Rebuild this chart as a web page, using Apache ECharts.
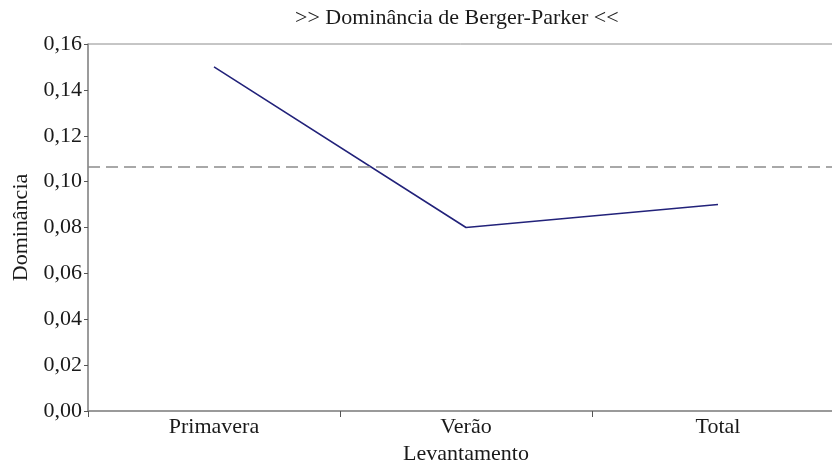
<!DOCTYPE html>
<html>
<head>
<meta charset="utf-8">
<script src="https://cdn.jsdelivr.net/npm/echarts@6/dist/echarts.min.js"></script>
<style>
  html, body { margin: 0; padding: 0; background: #fff; }
  #chart { width: 832px; height: 462px; }
</style>
</head>
<body>
<div id="chart"></div>
<script>
// dados
const categorias = ['Primavera', 'Verão', 'Total']
const dominancia = [0.15, 0.08, 0.09]

const fonte = '"Liberation Serif", "DejaVu Serif", serif'
const cinza = '#8c8c8c'

const chart = echarts.init(document.getElementById('chart'))

chart.setOption({
  animation: false,
  backgroundColor: '#fff',
  title: {
    text: '>> Dominância de Berger-Parker <<',
    left: 290,
    top: 2,
    textStyle: { fontFamily: fonte, fontSize: 22, fontWeight: 'normal', color: '#1a1a1a' },
  },
  grid: {
    left: 88,
    top: 44,
    width: 756,
    height: 367,
    outerBoundsMode: 'none',
    containLabel: false,
    show: true,
    borderColor: cinza,
    borderWidth: 1,
  },
  xAxis: {
    type: 'category',
    data: categorias,
    boundaryGap: true,
    name: 'Levantamento',
    nameLocation: 'middle',
    nameGap: 26,
    nameTextStyle: { fontFamily: fonte, fontSize: 22, color: '#1a1a1a' },
    axisLine: { lineStyle: { color: cinza, width: 1.5 } },
    axisTick: { show: true, length: 6, lineStyle: { color: '#555' } },
    axisLabel: { fontFamily: fonte, fontSize: 22, color: '#1a1a1a', margin: 5 },
    splitLine: { show: false },
  },
  yAxis: {
    type: 'value',
    min: 0,
    max: 0.16,
    interval: 0.02,
    name: 'Dominância',
    nameLocation: 'middle',
    nameGap: 52,
    nameRotate: 90,
    nameTextStyle: { fontFamily: fonte, fontSize: 22, color: '#1a1a1a' },
    axisLine: { show: true, lineStyle: { color: cinza, width: 1.5 } },
    axisTick: { show: true, length: 4, lineStyle: { color: '#555' } },
    axisLabel: {
      fontFamily: fonte,
      fontSize: 22,
      color: '#1a1a1a',
      margin: 6,
      formatter: (v) => v.toFixed(2).replace('.', ','),
    },
    splitLine: { show: false },
  },
  series: [
    {
      type: 'line',
      data: dominancia,
      symbol: 'none',
      lineStyle: { color: '#22227a', width: 1.6 },
      markLine: {
        silent: true,
        symbol: 'none',
        precision: 6, // sem isso a média é arredondada para 0,11
        label: { show: false },
        lineStyle: { color: '#8c8c8c', type: [12, 6], width: 1.5 },
        data: [{ type: 'average' }],
      },
    },
  ],
})
</script>
</body>
</html>
